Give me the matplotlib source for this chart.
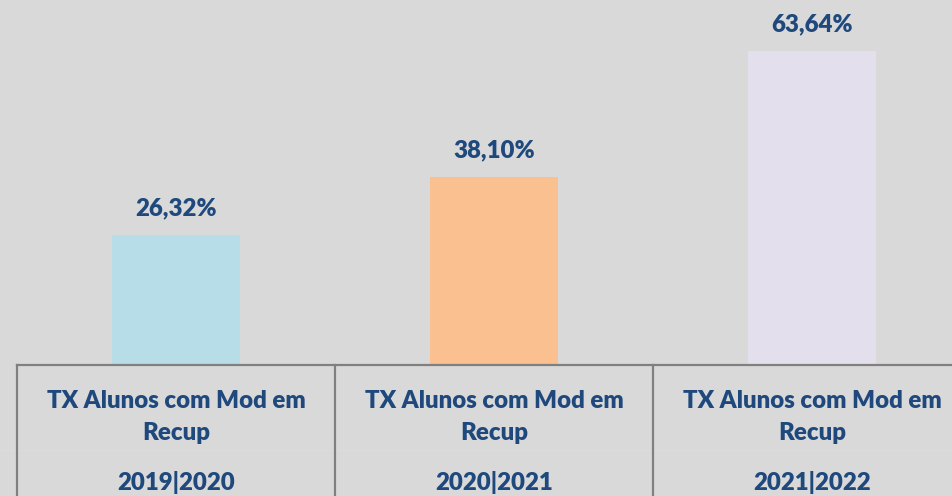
import matplotlib
matplotlib.use("Agg")
import matplotlib.pyplot as plt

categories = ["TX Alunos com Mod em\nRecup", "TX Alunos com Mod em\nRecup", "TX Alunos com Mod em\nRecup"]
years = ["2019|2020", "2020|2021", "2021|2022"]
values = [26.32, 38.10, 63.64]
value_labels = ["26,32%", "38,10%", "63,64%"]
colors = ["#B7DEE8", "#FAC090", "#E4DFEC"]

W, H = 953, 496
fig = plt.figure(figsize=(W / 100, H / 100), dpi=100)
bg = "#D9D9D9"
fig.patch.set_facecolor(bg)

ax = fig.add_axes([0, 0, 1, 1])
ax.set_facecolor(bg)
for s in ax.spines.values():
    s.set_visible(False)
ax.set_xticks([])
ax.set_yticks([])

px_per_unit_y = 314 / 63.64
base_px = 365
ymax = base_px / px_per_unit_y
ymin = -(H - base_px) / px_per_unit_y
cat_px = 318
left_px = 17
xmin = -0.5 - left_px / cat_px
xmax = xmin + W / cat_px
ax.set_xlim(xmin, xmax)
ax.set_ylim(ymin, ymax)

x = list(range(len(values)))
bar_w = 128 / cat_px
ax.bar(x, values, width=bar_w, color=colors, zorder=2)

font = ["Lato", "DejaVu Sans"]
txt_color = "#1F497D"
fs = 17.3
fw = "heavy"
for xi, v, lab in zip(x, values, value_labels):
    ax.text(xi, v + 27 / px_per_unit_y, lab, ha="center", va="center",
            fontsize=fs, fontweight=fw, color=txt_color, family=font)

line_c = "#808080"
ax.plot([-0.5, xmax + 1], [0, 0], color=line_c, lw=1.6, zorder=3, clip_on=False)
for b in [-0.5, 0.5, 1.5, 2.5]:
    ax.plot([b, b], [0, ymin], color=line_c, lw=1.6, zorder=3)
faint_y = -(450 - base_px) / px_per_unit_y
ax.plot([xmin, xmax], [faint_y, faint_y], color="#DCDCDC", lw=0.6, zorder=1)

y1 = -(401 - base_px) / px_per_unit_y
y2 = -(433 - base_px) / px_per_unit_y
y3 = -(483 - base_px) / px_per_unit_y
for xi, c, yr in zip(x, categories, years):
    l1, l2 = c.split("\n")
    ax.text(xi, y1, l1, ha="center", va="center", fontsize=fs,
            fontweight=fw, color=txt_color, family=font)
    ax.text(xi, y2, l2, ha="center", va="center", fontsize=fs,
            fontweight=fw, color=txt_color, family=font)
    ax.text(xi, y3, yr, ha="center", va="center", fontsize=fs,
            fontweight=fw, color=txt_color, family=font)

fig.savefig("out.png", dpi=100, facecolor=bg)
